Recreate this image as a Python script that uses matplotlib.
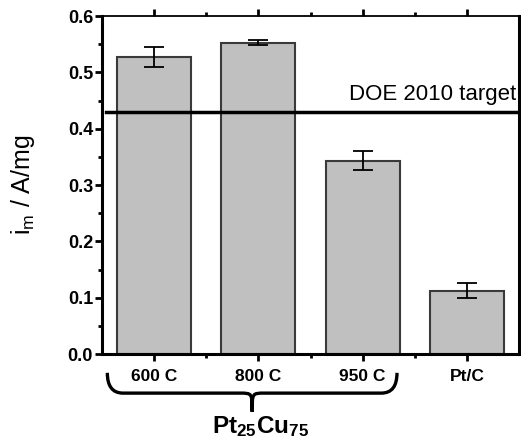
import numpy as np
import matplotlib.pyplot as plt
from matplotlib.path import Path
from matplotlib.patches import PathPatch
import matplotlib.transforms as mtransforms

plt.rcParams['font.family'] = ['Liberation Sans', 'DejaVu Sans']
plt.rcParams['mathtext.fontset'] = 'custom'
plt.rcParams['mathtext.rm'] = 'Liberation Sans'
plt.rcParams['mathtext.bf'] = 'Liberation Sans:bold'

# data
samples = ['600 C', '800 C', '950 C', 'Pt/C']
activity = [0.527, 0.553, 0.343, 0.113]   # A/mg
err = [0.018, 0.005, 0.017, 0.013]
doe_target = 0.43

fig = plt.figure(figsize=(5.21, 4.45), dpi=100)
ax = fig.add_axes([0.196, 0.204, 0.800, 0.760])

x = np.arange(len(samples))
ax.bar(x, activity, width=0.71, color='#c0c0c0', edgecolor='#3a3a3a', linewidth=1.5, zorder=2)
ax.errorbar(x, activity, yerr=err, fmt='none', ecolor='black', elinewidth=1.3,
            capsize=7, capthick=1.3, zorder=3)

ax.axhline(doe_target, xmin=0.01, xmax=1, color='black', linewidth=2.5, zorder=4)
ax.text(3.47, doe_target + 0.013, 'DOE 2010 target', ha='right', va='bottom', fontsize=16)

ax.set_xlim(-0.5, 3.5)
ax.set_ylim(0, 0.6)
ax.set_yticks(np.arange(0, 0.61, 0.1))
ax.set_yticks(np.arange(0.05, 0.6, 0.1), minor=True)
ax.set_yticklabels(['%.1f' % v for v in np.arange(0, 0.61, 0.1)], fontweight='bold', fontsize=13)
ax.set_xticks(x)
ax.set_xticks(x[:-1] + 0.5, minor=True)
ax.set_xticklabels(samples, fontweight='bold', fontsize=12.5)

ax.tick_params(axis='both', which='major', direction='out', length=5, width=2)
ax.tick_params(axis='both', which='minor', direction='out', length=3, width=2)
ax.tick_params(axis='x', which='both', top=True, pad=6)
ax.tick_params(axis='y', which='both', pad=1.5)

for side in ['left', 'right', 'bottom']:
    ax.spines[side].set_linewidth(2.2)
ax.spines['top'].set_linewidth(1.3)

ax.set_ylabel(r'$\mathregular{i_m}$ / A/mg', fontsize=18)
ax.yaxis.set_label_coords(-0.157, 0.5)

# curly brace under the Pt25Cu75 samples
trans = mtransforms.blended_transform_factory(ax.transData, ax.transAxes)
xl, xr = -0.45, 2.33
xm = 0.94
yt, yb, ytip = -0.055, -0.115, -0.17
verts = [(xl, yt), (xl, yb), (xl + 0.15, yb), (xm - 0.12, yb),
         (xm, yb), (xm, yb), (xm, ytip),
         (xm, yb), (xm, yb), (xm + 0.12, yb),
         (xr - 0.15, yb), (xr, yb), (xr, yt)]
codes = [Path.MOVETO, Path.CURVE3, Path.CURVE3, Path.LINETO,
         Path.CURVE4, Path.CURVE4, Path.CURVE4,
         Path.CURVE4, Path.CURVE4, Path.CURVE4,
         Path.LINETO, Path.CURVE3, Path.CURVE3]
brace = PathPatch(Path(verts, codes), transform=trans, fill=False,
                  edgecolor='black', linewidth=2.4, clip_on=False)
ax.add_patch(brace)

ax.text(1.02, -0.213, r'$\mathbf{Pt_{25}Cu_{75}}$', transform=trans, ha='center', va='center',
        fontsize=17.5)

fig.savefig('out.png', dpi=100)
